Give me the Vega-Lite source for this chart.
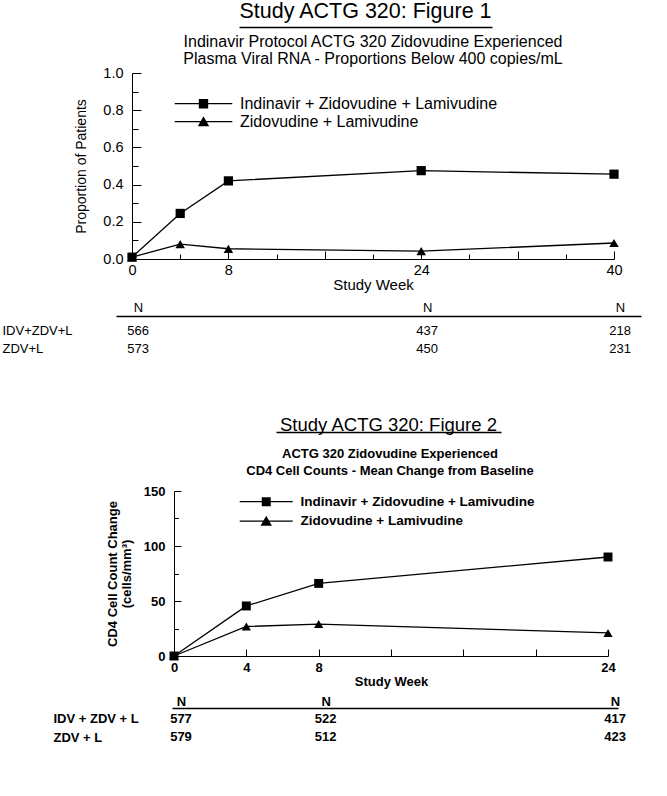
{
  "$schema": "https://vega.github.io/schema/vega-lite/v6.json",
  "padding": {"left": 0, "top": 0, "right": 5, "bottom": 5},
  "background": "white",
  "config": {
    "font": "Liberation Sans",
    "view": {"stroke": null},
    "concat": {"spacing": 0},
    "axis": {"domainColor": "black", "tickColor": "black", "labelColor": "black", "titleColor": "black", "grid": false, "domainWidth": 1, "tickWidth": 1, "labelFont": "Liberation Sans", "titleFont": "Liberation Sans", "labelOverlap": false, "labelFlush": false, "labelBound": false},
    "legend": {"labelColor": "black", "labelFont": "Liberation Sans"},
    "title": {"color": "black", "font": "Liberation Sans"},
    "text": {"color": "black"}
  },
  "datasets": {
    "f1": [
      {"week": 0, "group": "Zidovudine + Lamivudine", "value": 0.01},
      {"week": 4, "group": "Zidovudine + Lamivudine", "value": 0.08},
      {"week": 8, "group": "Zidovudine + Lamivudine", "value": 0.055},
      {"week": 24, "group": "Zidovudine + Lamivudine", "value": 0.042},
      {"week": 40, "group": "Zidovudine + Lamivudine", "value": 0.086},
      {"week": 0, "group": "Indinavir + Zidovudine + Lamivudine", "value": 0.01},
      {"week": 4, "group": "Indinavir + Zidovudine + Lamivudine", "value": 0.245},
      {"week": 8, "group": "Indinavir + Zidovudine + Lamivudine", "value": 0.42},
      {"week": 24, "group": "Indinavir + Zidovudine + Lamivudine", "value": 0.475},
      {"week": 40, "group": "Indinavir + Zidovudine + Lamivudine", "value": 0.456}
    ],
    "t1": [
      {"week": 0, "row": "IDV+ZDV+L", "n": "566"},
      {"week": 24, "row": "IDV+ZDV+L", "n": "437"},
      {"week": 40, "row": "IDV+ZDV+L", "n": "218"},
      {"week": 0, "row": "ZDV+L", "n": "573"},
      {"week": 24, "row": "ZDV+L", "n": "450"},
      {"week": 40, "row": "ZDV+L", "n": "231"}
    ],
    "f2": [
      {"week": 0, "group": "Zidovudine + Lamivudine", "value": 0},
      {"week": 4, "group": "Zidovudine + Lamivudine", "value": 26.8},
      {"week": 8, "group": "Zidovudine + Lamivudine", "value": 29},
      {"week": 24, "group": "Zidovudine + Lamivudine", "value": 21},
      {"week": 0, "group": "Indinavir + Zidovudine + Lamivudine", "value": 0},
      {"week": 4, "group": "Indinavir + Zidovudine + Lamivudine", "value": 45.5},
      {"week": 8, "group": "Indinavir + Zidovudine + Lamivudine", "value": 66},
      {"week": 24, "group": "Indinavir + Zidovudine + Lamivudine", "value": 90}
    ],
    "t2": [
      {"week": 0, "row": "IDV + ZDV + L", "n": "577"},
      {"week": 8, "row": "IDV + ZDV + L", "n": "522"},
      {"week": 24, "row": "IDV + ZDV + L", "n": "417"},
      {"week": 0, "row": "ZDV + L", "n": "579"},
      {"week": 8, "row": "ZDV + L", "n": "512"},
      {"week": 24, "row": "ZDV + L", "n": "423"}
    ]
  },
  "spacing": 0,
  "bounds": "flush",
  "resolve": {"scale": {"shape": "independent"}, "legend": {"shape": "independent"}},
  "vconcat": [
    {
      "width": 492, "height": 46,
      "data": {"values": [{"u": 0}]},
      "title": {"text": "Study ACTG 320: Figure 1", "fontSize": 21.5, "fontWeight": "normal", "anchor": "middle", "baseline": "alphabetic", "offset": -12, "dx": 119.5},
      "mark": {"type": "point", "opacity": 0},
      "encoding": {"x": {"field": "u", "type": "quantitative", "scale": {"domain": [0, 1], "range": [239, 492]}, "axis": {"orient": "top", "ticks": false, "labels": false, "title": null, "domainWidth": 1.3}}}
    },
    {
      "width": 614, "height": 186,
      "data": {"name": "f1"},
      "title": {"text": ["Indinavir Protocol ACTG 320 Zidovudine Experienced", "Plasma Viral RNA - Proportions Below 400 copies/mL"], "fontSize": 16, "fontWeight": "normal", "lineHeight": 17, "anchor": "middle", "baseline": "bottom", "offset": -18, "dx": 66},
      "encoding": {
        "x": {"field": "week", "type": "quantitative", "scale": {"domain": [0, 40], "range": [132, 614], "nice": false, "zero": false},
          "axis": {"values": [0, 4, 8, 12, 16, 20, 24, 28, 32, 36, 40], "labelExpr": "indexof([0,8,24,40], datum.value) >= 0 ? datum.label : ''", "tickSize": {"condition": {"test": "datum.value % 8 === 0", "value": -8}, "value": -5}, "labelPadding": 12.3, "labelFontSize": 14.5, "title": "Study Week", "titleFontSize": 15, "titleFontWeight": "normal", "titlePadding": -2}},
        "y": {"field": "value", "type": "quantitative", "scale": {"domain": [0, 1], "nice": false},
          "axis": {"offset": -132, "values": [0, 0.1, 0.2, 0.3, 0.4, 0.5, 0.6, 0.7, 0.8, 0.9, 1], "format": ".1f", "labelExpr": "round(datum.value*10) % 2 === 0 ? datum.label : ''", "tickSize": {"condition": {"test": "round(datum.value*10) % 2 === 0", "value": -9}, "value": -6}, "labelPadding": 18, "labelFontSize": 14.5, "title": "Proportion of Patients", "titleFontSize": 14, "titleFontWeight": "normal", "titlePadding": 14}}
      },
      "layer": [
        {"mark": {"type": "line", "color": "black", "strokeWidth": 1.3}, "encoding": {"detail": {"field": "group", "type": "nominal"}}},
        {"transform": [{"filter": "datum.group === 'Zidovudine + Lamivudine'"}], "mark": {"type": "point", "shape": "triangle-up", "filled": true, "color": "black", "opacity": 1, "size": 90}},
        {"transform": [{"filter": "datum.group === 'Indinavir + Zidovudine + Lamivudine'"}], "mark": {"type": "point", "shape": "square", "filled": true, "color": "black", "opacity": 1, "size": 85}},
        {"transform": [{"filter": "false"}], "mark": {"type": "point", "filled": true, "color": "black", "opacity": 1},
          "encoding": {"shape": {"field": "group", "type": "nominal",
            "scale": {"domain": ["Indinavir + Zidovudine + Lamivudine", "Zidovudine + Lamivudine"], "range": ["M-4.8,-0.1H4.8V0.1H-4.8Z M-0.78,-0.78H0.78V0.78H-0.78Z", "M-4.8,-0.1H4.8V0.1H-4.8Z M0,-0.9L0.95,0.75H-0.95Z"]},
            "legend": {"orient": "none", "legendX": 195.5, "legendY": 22.7, "title": null, "padding": 0, "symbolSize": 144, "symbolFillColor": "black", "symbolStrokeWidth": 0, "labelFontSize": 16, "labelOffset": 28.5, "rowPadding": 2, "labelLimit": 0}}}}
      ]
    },
    {"width": 1, "height": 57, "data": {"values": []}, "mark": "point"},
    {
      "width": 641, "height": 47.5,
      "data": {"name": "t1"},
      "mark": {"type": "text", "fontSize": 13, "dx": 6, "color": "black"},
      "encoding": {
        "x": {"field": "week", "type": "quantitative", "scale": {"domain": [-1.33, 42.24], "range": [116, 641], "nice": false, "zero": false},
          "axis": {"orient": "top", "values": [0, 24, 40], "labelExpr": "'N'", "ticks": false, "tickSize": 0, "labelPadding": 4.5, "labelBaseline": "alphabetic", "labelOffset": 6, "labelFontSize": 13, "title": null, "domainWidth": 1.3}},
        "y": {"field": "row", "type": "nominal", "scale": {"type": "point", "padding": 0.857, "domain": ["IDV+ZDV+L", "ZDV+L"]},
          "axis": {"orient": "left", "offset": -2, "domain": false, "ticks": false, "tickSize": 0, "labelAlign": "left", "labelPadding": 0, "labelFontSize": 13, "title": null}},
        "text": {"field": "n", "type": "nominal"}
      }
    },
    {"width": 1, "height": 67.5, "data": {"values": []}, "mark": "point"},
    {
      "width": 501, "height": 59,
      "data": {"values": [{"u": 0}]},
      "title": {"text": "Study ACTG 320: Figure 2", "fontSize": 18.5, "fontWeight": "normal", "anchor": "middle", "baseline": "alphabetic", "offset": -17.2, "dx": 138},
      "mark": {"type": "point", "opacity": 0},
      "encoding": {"x": {"field": "u", "type": "quantitative", "scale": {"domain": [0, 1], "range": [276, 501]}, "axis": {"orient": "top", "ticks": false, "labels": false, "title": null, "domainWidth": 1.3}}}
    },
    {
      "width": 608, "height": 165,
      "data": {"name": "f2"},
      "title": {"text": ["ACTG 320 Zidovudine Experienced", "CD4 Cell Counts - Mean Change from Baseline"], "fontSize": 13, "fontWeight": "bold", "lineHeight": 16.7, "anchor": "middle", "baseline": "bottom", "offset": -6, "dx": 86},
      "encoding": {
        "x": {"field": "week", "type": "quantitative", "scale": {"domain": [0, 24], "range": [174, 608], "nice": false, "zero": false},
          "axis": {"values": [0, 4, 8, 12, 16, 20, 24], "labelExpr": "indexof([0,4,8,24], datum.value) >= 0 ? datum.label : ''", "tickSize": -7, "labelPadding": 12.6, "labelFontSize": 13, "labelFontWeight": "bold", "title": "Study Week", "titleFontSize": 13, "titleFontWeight": "bold", "titlePadding": 1}},
        "y": {"field": "value", "type": "quantitative", "scale": {"domain": [0, 150], "nice": false},
          "axis": {"offset": -174, "values": [0, 25, 50, 75, 100, 125, 150], "labelExpr": "datum.value % 50 === 0 ? datum.label : ''", "tickSize": {"condition": {"test": "datum.value % 50 === 0", "value": -7}, "value": -4.5}, "labelPadding": 16, "labelFontSize": 13, "labelFontWeight": "bold", "title": ["CD4 Cell Count Change", "(cells/mm³)"], "titleFontSize": 13, "titleFontWeight": "bold", "titleLineHeight": 14, "titlePadding": 10}}
      },
      "layer": [
        {"mark": {"type": "line", "color": "black", "strokeWidth": 1.3}, "encoding": {"detail": {"field": "group", "type": "nominal"}}},
        {"transform": [{"filter": "datum.group === 'Zidovudine + Lamivudine'"}], "mark": {"type": "point", "shape": "triangle-up", "filled": true, "color": "black", "opacity": 1, "size": 85}},
        {"transform": [{"filter": "datum.group === 'Indinavir + Zidovudine + Lamivudine'"}], "mark": {"type": "point", "shape": "square", "filled": true, "color": "black", "opacity": 1, "size": 80}},
        {"transform": [{"filter": "false"}], "mark": {"type": "point", "filled": true, "color": "black", "opacity": 1},
          "encoding": {"shape": {"field": "group", "type": "nominal",
            "scale": {"domain": ["Indinavir + Zidovudine + Lamivudine", "Zidovudine + Lamivudine"], "range": ["M-4.42,-0.1H4.42V0.1H-4.42Z M-0.75,-0.75H0.75V0.75H-0.75Z", "M-4.42,-0.1H4.42V0.1H-4.42Z M0,-0.9L0.95,0.75H-0.95Z"]},
            "legend": {"orient": "none", "legendX": 259.5, "legendY": 3.9, "title": null, "padding": 0, "symbolSize": 144, "symbolFillColor": "black", "symbolStrokeWidth": 0, "labelFontSize": 13.5, "labelFontWeight": "bold", "labelOffset": 27.5, "rowPadding": 4.5, "labelLimit": 0}}}}
      ]
    },
    {"width": 1, "height": 52, "data": {"values": []}, "mark": "point"},
    {
      "width": 618, "height": 40,
      "data": {"name": "t2"},
      "mark": {"type": "text", "fontSize": 13, "fontWeight": "bold", "dx": 7, "color": "black"},
      "encoding": {
        "x": {"field": "week", "type": "quantitative", "scale": {"domain": [-0.11, 24.55], "range": [172, 618], "nice": false, "zero": false},
          "axis": {"orient": "top", "values": [0, 8, 24], "labelExpr": "'N'", "ticks": false, "tickSize": 0, "labelPadding": 3, "labelBaseline": "alphabetic", "labelOffset": 7, "labelFontSize": 13, "labelFontWeight": "bold", "title": null, "domainWidth": 1.3}},
        "y": {"field": "row", "type": "nominal", "scale": {"type": "point", "padding": 0.611, "domain": ["IDV + ZDV + L", "ZDV + L"]},
          "axis": {"orient": "left", "offset": -53, "domain": false, "ticks": false, "tickSize": 0, "labelAlign": "left", "labelPadding": 0, "labelFontSize": 13, "labelFontWeight": "bold", "title": null}},
        "text": {"field": "n", "type": "nominal"}
      }
    }
  ]
}
